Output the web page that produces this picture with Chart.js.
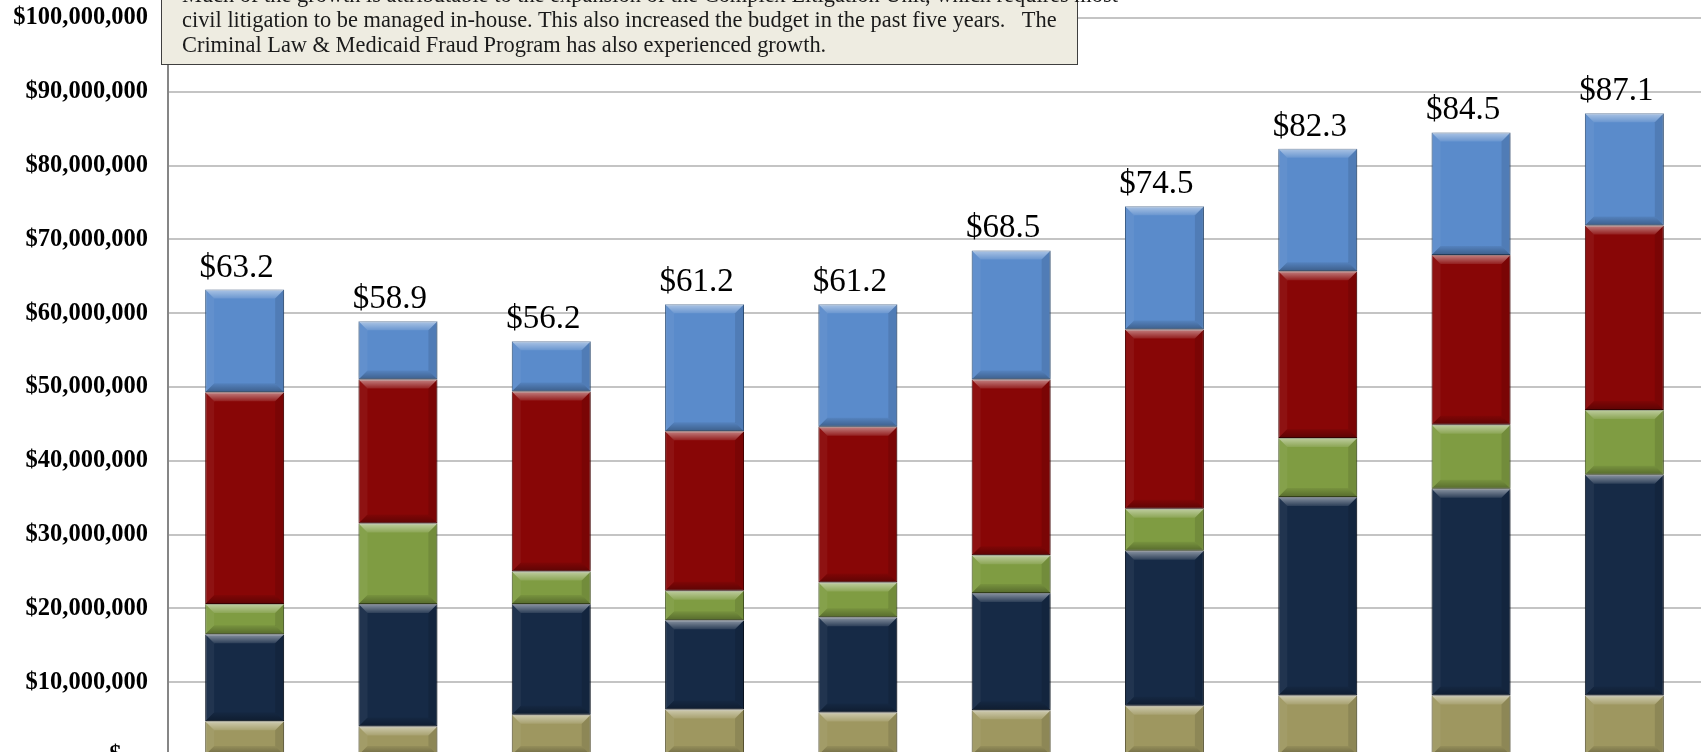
<!DOCTYPE html>
<html lang="en">
<head>
  <meta charset="UTF-8">
  <title>Budget by program</title>
  <script src="https://cdn.jsdelivr.net/npm/chart.js"></script>
  <style>
    html, body { margin: 0; padding: 0; overflow: hidden; background: #fff; }
    body { width: 1701px; height: 752px; position: relative; }
    /* canvas is taller than the window: top and bottom are cut like the original */
    #wrap { position: absolute; left: 0; top: -40px; width: 1701px; height: 836px; }
    #note {
      position: absolute; left: 161px; top: -40px; width: 895px;
      padding: 21px 0 7px 20px;
      background: #EEECE1; border: 1.5px solid #3F3F3F;
      font-family: "Liberation Serif", serif; font-size: 22.4px; line-height: 25px;
      color: #1a1a1a; white-space: nowrap; z-index: 2;
    }
  </style>
</head>
<body>
  <div id="wrap"><canvas id="budgetChart" width="1701" height="836"></canvas></div>
  <div id="note">
    Much of the growth is attributable to the expansion of the Complex Litigation Unit, which requires most<br>
    civil litigation to be managed in-house. This also increased the budget in the past five years.&nbsp;&nbsp; The<br>
    Criminal Law &amp; Medicaid Fraud Program has also experienced growth.
  </div>

<script>
// categories (axis labels are cut off in the picture)
const years = ['1', '2', '3', '4', '5', '6', '7', '8', '9', '10'];

// segment values in millions, bottom to top
const tanVals   = [4.7, 4.0, 5.6, 6.3, 5.9, 6.2, 6.8, 8.2, 8.2, 8.2];
const navyVals  = [11.8, 16.6, 15.0, 12.1, 12.9, 15.9, 21.0, 26.9, 28.0, 29.9];
const greenVals = [4.1, 10.9, 4.4, 4.0, 4.7, 5.1, 5.7, 8.0, 8.7, 8.8];
const redVals   = [28.7, 19.5, 24.4, 21.6, 21.1, 23.8, 24.3, 22.6, 23.0, 25.0];
const blueVals  = [13.9, 7.9, 6.8, 17.2, 16.6, 17.5, 16.7, 16.6, 16.6, 15.2];

// total labels shown above the bars (millions)
const totals = [63.2, 58.9, 56.2, 61.2, 61.2, 68.5, 74.5, 82.3, 84.5, 87.1];

// y axis ticks
const yMax = 100000000;
const yStep = 10000000;

const M = 1000000;
const toDollars = arr => arr.map(v => v * M);

function makeSet(name, vals, color, edge) {
  return {
    label: name,
    data: toDollars(vals),
    backgroundColor: color,
    borderColor: edge,
    borderWidth: 1,
    borderSkipped: false,
    categoryPercentage: 1,
    barPercentage: 0.515
  };
}

// soft shadow behind the bars
const shadowPlugin = {
  id: 'barShadow',
  beforeDatasetsDraw(chart) {
    const ctx = chart.ctx;
    ctx.save();
    ctx.shadowColor = 'rgba(0,0,0,0.35)';
    ctx.shadowBlur = 6;
  },
  afterDatasetsDraw(chart) {
    chart.ctx.restore();
  }
};

// bevel look on each segment, plus the total labels
const bevelPlugin = {
  id: 'bevel',
  afterDatasetsDraw(chart) {
    const ctx = chart.ctx;
    chart.data.datasets.forEach((ds, i) => {
      chart.getDatasetMeta(i).data.forEach(bar => {
        const p = bar.getProps(['x', 'y', 'base', 'width'], true);
        const l = p.x - p.width / 2, r = p.x + p.width / 2;
        const t = Math.min(p.y, p.base), b = Math.max(p.y, p.base);
        const bv = Math.min(9, (b - t) / 3);
        ctx.save();
        // top band (light)
        let g = ctx.createLinearGradient(0, t, 0, t + bv);
        g.addColorStop(0, 'rgba(255,255,255,0.5)');
        g.addColorStop(1, 'rgba(255,255,255,0.1)');
        ctx.fillStyle = g;
        ctx.beginPath();
        ctx.moveTo(l, t); ctx.lineTo(r, t); ctx.lineTo(r - bv, t + bv); ctx.lineTo(l + bv, t + bv);
        ctx.closePath(); ctx.fill();
        // bottom band (dark)
        g = ctx.createLinearGradient(0, b - bv, 0, b);
        g.addColorStop(0, 'rgba(0,0,0,0.06)');
        g.addColorStop(1, 'rgba(0,0,0,0.32)');
        ctx.fillStyle = g;
        ctx.beginPath();
        ctx.moveTo(l, b); ctx.lineTo(r, b); ctx.lineTo(r - bv, b - bv); ctx.lineTo(l + bv, b - bv);
        ctx.closePath(); ctx.fill();
        // left / right sides
        ctx.fillStyle = 'rgba(255,255,255,0.05)';
        ctx.beginPath();
        ctx.moveTo(l, t); ctx.lineTo(l + bv, t + bv); ctx.lineTo(l + bv, b - bv); ctx.lineTo(l, b);
        ctx.closePath(); ctx.fill();
        ctx.fillStyle = 'rgba(0,0,0,0.1)';
        ctx.beginPath();
        ctx.moveTo(r, t); ctx.lineTo(r - bv, t + bv); ctx.lineTo(r - bv, b - bv); ctx.lineTo(r, b);
        ctx.closePath(); ctx.fill();
        ctx.restore();
      });
    });

    // totals above the top segment
    const top = chart.getDatasetMeta(chart.data.datasets.length - 1).data;
    ctx.save();
    ctx.font = '33px "Liberation Serif", serif';
    ctx.fillStyle = '#000';
    ctx.textAlign = 'center';
    ctx.textBaseline = 'alphabetic';
    top.forEach((bar, i) => {
      ctx.fillText('$' + totals[i].toFixed(1), bar.x - 8, bar.y - 13);
    });
    ctx.restore();
  }
};

const ctx = document.getElementById('budgetChart').getContext('2d');
new Chart(ctx, {
  type: 'bar',
  data: {
    labels: years,
    datasets: [
      makeSet('Series 1', tanVals, '#9E9760', '#6f6a40'),
      makeSet('Series 2', navyVals, '#162A46', '#0c1829'),
      makeSet('Series 3', greenVals, '#7F9C42', '#566c2a'),
      makeSet('Series 4', redVals, '#880606', '#5a0202'),
      makeSet('Series 5', blueVals, '#5A8BCB', '#3d6698')
    ]
  },
  plugins: [shadowPlugin, bevelPlugin],
  options: {
    responsive: false,
    animation: false,
    layout: { padding: { top: 58, bottom: 40, left: 0, right: 0 } },
    plugins: {
      legend: { display: false },
      tooltip: { enabled: false }
    },
    scales: {
      x: {
        stacked: true,
        display: false
      },
      y: {
        stacked: true,
        min: 0,
        max: yMax,
        afterFit(scale) { scale.width = 168; },
        ticks: {
          stepSize: yStep,
          padding: 20,
          color: '#000',
          font: { family: '"Liberation Serif", serif', size: 24.5, weight: 'bold' },
          callback: v => v === 0 ? '$   -' : '$' + v.toLocaleString('en-US')
        },
        grid: { color: '#C4C4C4', lineWidth: 2, drawTicks: false },
        border: { color: '#868686', width: 2 }
      }
    }
  }
});
</script>
</body>
</html>
